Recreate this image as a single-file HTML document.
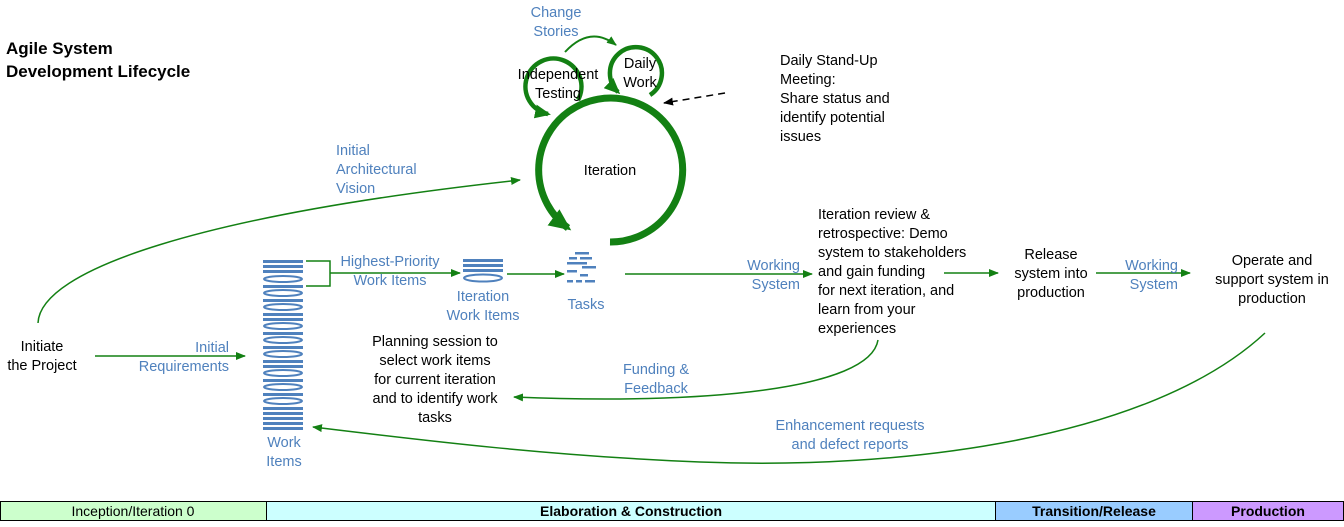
<!DOCTYPE html><html><head><meta charset="utf-8"><style>
body{margin:0;background:#fff;width:1344px;height:527px;overflow:hidden}
svg{display:block}
text{font-family:"Liberation Sans",Arial,sans-serif;font-size:14.5px}
.k{fill:#000}.b{fill:#4f81bd}
</style></head><body>
<svg width="1344" height="527" viewBox="0 0 1344 527">
<defs>
<marker id="a" markerWidth="10" markerHeight="8" refX="9" refY="4" orient="auto" markerUnits="userSpaceOnUse"><path d="M0,0L10,4L0,8z" fill="#138013"/></marker>
<marker id="ak" markerWidth="10" markerHeight="8" refX="9" refY="4" orient="auto" markerUnits="userSpaceOnUse"><path d="M0,0L10,4L0,8z" fill="#000"/></marker>
<marker id="big" markerWidth="22" markerHeight="20" refX="18" refY="10" orient="auto" markerUnits="userSpaceOnUse"><path d="M0,0L22,10L0,20z" fill="#138013"/></marker>
<marker id="med" markerWidth="16" markerHeight="14" refX="13" refY="7" orient="auto" markerUnits="userSpaceOnUse"><path d="M0,0L16,7L0,14z" fill="#138013"/></marker>
</defs>
<text x="6" y="54" style="font-weight:bold;font-size:17px">Agile System</text>
<text x="6" y="77" style="font-weight:bold;font-size:17px">Development Lifecycle</text>

<path d="M610,242 A72,72 0 1 0 568,228" fill="none" stroke="#138013" stroke-width="7" marker-end="url(#big)"/>
<text x="610" y="175" text-anchor="middle">Iteration</text>
<path d="M578,100 A28,28 0 1 0 548,114" fill="none" stroke="#138013" stroke-width="4.5" marker-end="url(#med)"/>
<path d="M650,95 A26,26 0 1 0 618,92" fill="none" stroke="#138013" stroke-width="4.5" marker-end="url(#med)"/>
<text x="558" y="79" text-anchor="middle">Independent</text>
<text x="558" y="98" text-anchor="middle">Testing</text>
<text x="640" y="68" text-anchor="middle">Daily</text>
<text x="640" y="87" text-anchor="middle">Work</text>
<path d="M565,52 Q590,25 616,45" fill="none" stroke="#138013" stroke-width="2" marker-end="url(#a)"/>
<text x="556" y="17" text-anchor="middle" class="b">Change</text>
<text x="556" y="36" text-anchor="middle" class="b">Stories</text>
<line x1="725" y1="93" x2="664" y2="103" stroke="#000" stroke-width="1.5" stroke-dasharray="7,5" marker-end="url(#ak)"/>
<text x="780" y="65">Daily Stand-Up</text>
<text x="780" y="84">Meeting:</text>
<text x="780" y="103">Share status and</text>
<text x="780" y="122">identify potential</text>
<text x="780" y="141">issues</text>

<text x="42" y="351" text-anchor="middle">Initiate</text>
<text x="42" y="370" text-anchor="middle">the Project</text>
<path d="M38,323 C40,270 200,215 520,180" fill="none" stroke="#138013" stroke-width="1.5" marker-end="url(#a)"/>
<text x="336" y="155" class="b">Initial</text>
<text x="336" y="174" class="b">Architectural</text>
<text x="336" y="193" class="b">Vision</text>
<line x1="95" y1="356" x2="245" y2="356" stroke="#138013" stroke-width="1.5" marker-end="url(#a)"/>
<text x="229" y="352" text-anchor="end" class="b">Initial</text>
<text x="229" y="371" text-anchor="end" class="b">Requirements</text>

<g fill="#4f81bd" stroke="#4f81bd">
<rect x="263" y="260" width="40" height="3" stroke="none"/>
<rect x="263" y="265" width="40" height="3" stroke="none"/>
<rect x="263" y="270" width="40" height="3" stroke="none"/>
<ellipse cx="283" cy="279" rx="19" ry="3" fill="none" stroke-width="2"/>
<rect x="263" y="285" width="40" height="3" stroke="none"/>
<ellipse cx="283" cy="293" rx="19" ry="3" fill="none" stroke-width="2"/>
<rect x="263" y="299" width="40" height="3" stroke="none"/>
<ellipse cx="283" cy="307" rx="19" ry="3" fill="none" stroke-width="2"/>
<rect x="263" y="313" width="40" height="3" stroke="none"/>
<rect x="263" y="318" width="40" height="3" stroke="none"/>
<ellipse cx="283" cy="326" rx="19" ry="3" fill="none" stroke-width="2"/>
<rect x="263" y="332" width="40" height="3" stroke="none"/>
<ellipse cx="283" cy="340" rx="19" ry="3" fill="none" stroke-width="2"/>
<rect x="263" y="346" width="40" height="3" stroke="none"/>
<ellipse cx="283" cy="354" rx="19" ry="3" fill="none" stroke-width="2"/>
<rect x="263" y="360" width="40" height="3" stroke="none"/>
<rect x="263" y="365" width="40" height="3" stroke="none"/>
<ellipse cx="283" cy="373" rx="19" ry="3" fill="none" stroke-width="2"/>
<rect x="263" y="379" width="40" height="3" stroke="none"/>
<ellipse cx="283" cy="387" rx="19" ry="3" fill="none" stroke-width="2"/>
<rect x="263" y="393" width="40" height="3" stroke="none"/>
<ellipse cx="283" cy="401" rx="19" ry="3" fill="none" stroke-width="2"/>
<rect x="263" y="407" width="40" height="3" stroke="none"/>
<rect x="263" y="412" width="40" height="3" stroke="none"/>
<rect x="263" y="417" width="40" height="3" stroke="none"/>
<rect x="263" y="422" width="40" height="3" stroke="none"/>
<rect x="263" y="427" width="40" height="3" stroke="none"/>
</g>
<text x="284" y="447" text-anchor="middle" class="b">Work</text>
<text x="284" y="466" text-anchor="middle" class="b">Items</text>
<path d="M306,261 H330 V286 H306" fill="none" stroke="#138013" stroke-width="1.5"/>
<line x1="330" y1="273" x2="460" y2="273" stroke="#138013" stroke-width="1.5" marker-end="url(#a)"/>
<text x="390" y="266" text-anchor="middle" class="b">Highest-Priority</text>
<text x="390" y="285" text-anchor="middle" class="b">Work Items</text>
<g fill="#4f81bd"><rect x="463" y="259" width="40" height="3"/><rect x="463" y="264" width="40" height="3"/><rect x="463" y="269" width="40" height="3"/></g>
<ellipse cx="483" cy="278" rx="19" ry="3.5" fill="none" stroke="#4f81bd" stroke-width="2"/>
<text x="483" y="301" text-anchor="middle" class="b">Iteration</text>
<text x="483" y="320" text-anchor="middle" class="b">Work Items</text>
<line x1="507" y1="274" x2="564" y2="274" stroke="#138013" stroke-width="1.5" marker-end="url(#a)"/>
<g fill="#4f81bd"><rect x="575" y="252" width="14" height="2.5"/><rect x="569" y="257" width="8" height="2.5"/><rect x="580" y="257" width="12" height="2.5"/><rect x="567" y="262" width="20" height="2.5"/><rect x="582" y="266" width="14" height="2.5"/><rect x="567" y="270" width="10" height="2.5"/><rect x="580" y="274" width="8" height="2.5"/><rect x="567" y="280" width="6" height="2.5"/><rect x="576" y="280" width="6" height="2.5"/><rect x="585" y="280" width="10" height="2.5"/></g>
<text x="586" y="309" text-anchor="middle" class="b">Tasks</text>
<line x1="625" y1="274" x2="812" y2="274" stroke="#138013" stroke-width="1.5" marker-end="url(#a)"/>
<text x="800" y="270" text-anchor="end" class="b">Working</text>
<text x="800" y="289" text-anchor="end" class="b">System</text>
<text x="818" y="219">Iteration review &amp;</text>
<text x="818" y="238">retrospective: Demo</text>
<text x="818" y="257">system to stakeholders</text>
<text x="818" y="276">and gain funding</text>
<text x="818" y="295">for next iteration, and</text>
<text x="818" y="314">learn from your</text>
<text x="818" y="333">experiences</text>
<text x="435" y="346" text-anchor="middle">Planning session to</text>
<text x="435" y="365" text-anchor="middle">select work items</text>
<text x="435" y="384" text-anchor="middle">for current iteration</text>
<text x="435" y="403" text-anchor="middle">and to identify work</text>
<text x="435" y="422" text-anchor="middle">tasks</text>
<path d="M878,340 C870,390 700,405 514,397" fill="none" stroke="#138013" stroke-width="1.5" marker-end="url(#a)"/>
<text x="656" y="374" text-anchor="middle" class="b">Funding &amp;</text>
<text x="656" y="393" text-anchor="middle" class="b">Feedback</text>
<line x1="944" y1="273" x2="998" y2="273" stroke="#138013" stroke-width="1.5" marker-end="url(#a)"/>
<text x="1051" y="259" text-anchor="middle">Release</text>
<text x="1051" y="278" text-anchor="middle">system into</text>
<text x="1051" y="297" text-anchor="middle">production</text>
<line x1="1096" y1="273" x2="1190" y2="273" stroke="#138013" stroke-width="1.5" marker-end="url(#a)"/>
<text x="1178" y="270" text-anchor="end" class="b">Working</text>
<text x="1178" y="289" text-anchor="end" class="b">System</text>
<text x="1272" y="265" text-anchor="middle">Operate and</text>
<text x="1272" y="284" text-anchor="middle">support system in</text>
<text x="1272" y="303" text-anchor="middle">production</text>
<path d="M1265,333 C1150,440 900,470 700,462 C550,456 420,440 313,427" fill="none" stroke="#138013" stroke-width="1.5" marker-end="url(#a)"/>
<text x="850" y="430" text-anchor="middle" class="b">Enhancement requests</text>
<text x="850" y="449" text-anchor="middle" class="b">and defect reports</text>

<rect x="0.5" y="501.5" width="266" height="19" fill="#ccffcc" stroke="#000"/>
<rect x="266.5" y="501.5" width="729" height="19" fill="#ccffff" stroke="#000"/>
<rect x="995.5" y="501.5" width="197" height="19" fill="#99ccff" stroke="#000"/>
<rect x="1192.5" y="501.5" width="151" height="19" fill="#cc99ff" stroke="#000"/>
<text x="133" y="516" text-anchor="middle" style="font-size:14px">Inception/Iteration 0</text>
<text x="631" y="516" text-anchor="middle" style="font-size:14px;font-weight:bold">Elaboration &amp; Construction</text>
<text x="1094" y="516" text-anchor="middle" style="font-size:14px;font-weight:bold">Transition/Release</text>
<text x="1268" y="516" text-anchor="middle" style="font-size:14px;font-weight:bold">Production</text>
</svg>
</body></html>
